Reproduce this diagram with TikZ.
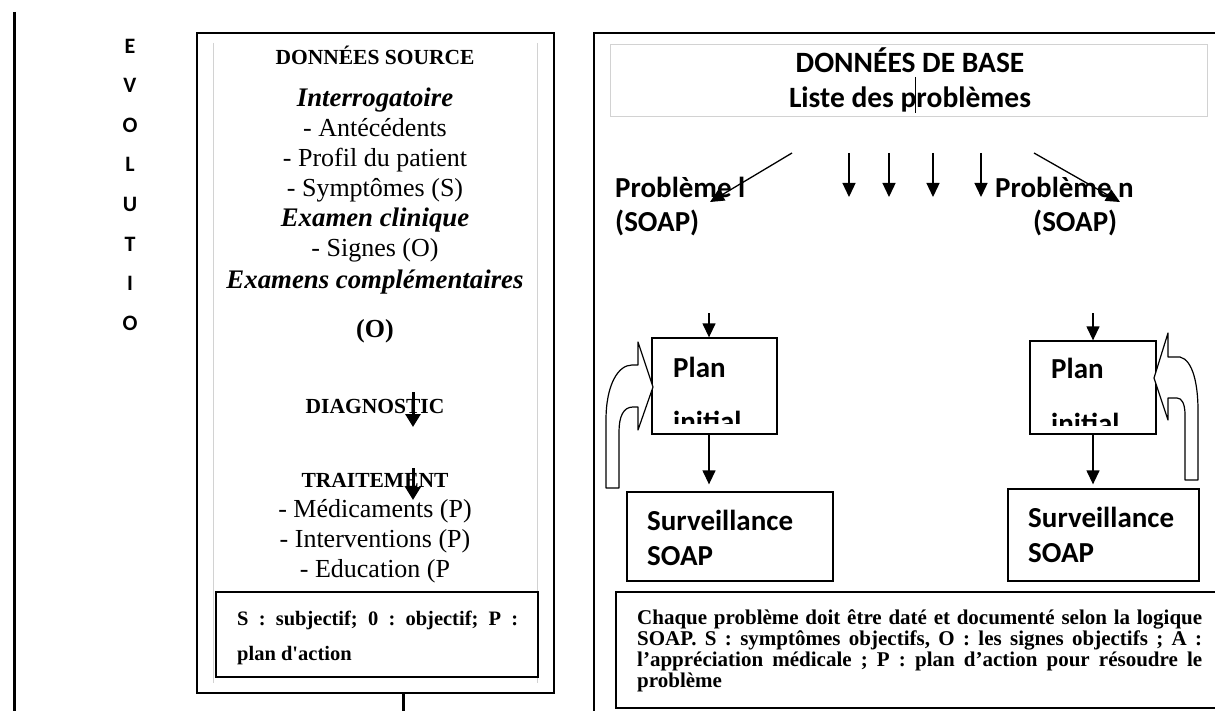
\documentclass[tikz,border=0pt]{standalone}
\usepackage{fontspec}
\setmainfont{Liberation Serif}
\newfontfamily\calibri{Carlito}
\usetikzlibrary{arrows.meta, positioning, calc}
\frenchspacing

\begin{document}
\begin{tikzpicture}[x=1pt, y=-1pt,
  frame/.style={draw, line width=1.6pt},
  pale/.style={draw=gray!35, line width=0.6pt},
  src/.style={anchor=base, inner sep=0pt, font=\fontsize{26}{30}\selectfont},
  srchead/.style={anchor=base, inner sep=0pt, font=\fontsize{21.5}{24}\selectfont\bfseries},
  srcsub/.style={anchor=base, inner sep=0pt, font=\fontsize{26.8}{30}\selectfont\bfseries\itshape},
  evo/.style={inner sep=0pt, font=\fontsize{22}{24}\calibri\bfseries},
  cal/.style={anchor=base west, inner sep=0pt, font=\fontsize{29}{34}\calibri\bfseries},
  calc/.style={anchor=base, inner sep=0pt, font=\fontsize{29.5}{34}\calibri\bfseries},
  planbox/.style={draw, line width=1.3pt, inner sep=0pt},
  bigarr/.style={line width=3pt, -{Triangle[length=13pt, width=15pt]}},
  arr/.style={line width=1.3pt, -{Triangle[length=14pt, width=13pt]}},
  loopback/.style={draw, fill=white, line width=1.2pt, line join=round}
]
\useasboundingbox (0,0) rectangle (1215,711);

% marge gauche
\draw[line width=3pt] (14,12) -- (14,711);
\foreach \ch [count=\i] in {E,V,O,L,U,T,I,O}
  \node[evo] (evo\i) at (130,{46+39.6*(\i-1)}) {\ch};

% colonne des donnees source
\draw[frame] (197,33) rectangle (554,693);
\draw[pale] (213,43) -- (213,683);
\draw[pale] (537,43) -- (537,683);
\node[srchead] (donsrc) at (375,65) {DONNÉES SOURCE};
\node[srcsub] (interro) at (375,107) {Interrogatoire};
\node[src] (antec) at (375,137) {- Antécédents};
\node[src] (profil) at (375,167) {- Profil du patient};
\node[src] (sympt) at (375,197) {- Symptômes (S)};
\node[srcsub] (examclin) at (375,227) {Examen clinique};
\node[src] (signes) at (375,257) {- Signes (O)};
\node[srcsub] (examcomp) at (375,288) {Examens complémentaires};
\node[srchead, font=\fontsize{26}{30}\selectfont\bfseries] (obj) at (375,337) {(O)};
\node[srchead] (diag) at (375,413) {DIAGNOSTIC};
\node[srchead] (trait) at (375,487) {TRAITEMENT};
\node[src] (medic) at (375,517) {- Médicaments (P)};
\node[src] (interv) at (375,547) {- Interventions (P)};
\node[src] (educ) at (375,577) {- Education (P};
\coordinate (d1) at (413,392);
\coordinate (d2) at (413,468);
\draw[bigarr] (d1) -- ++(0,35);
\draw[bigarr] (d2) -- ++(0,32);
\draw[line width=1.3pt] (216,592) rectangle (538,677);
\node[anchor=north west, inner sep=0pt, text width=281pt, align=justify,
  font=\fontsize{20.5}{35}\selectfont\bfseries] (legend) at (237,611)
  {S : subjectif; 0 : objectif; P :\linebreak plan d\textquotesingle action};
\draw[line width=3pt] (403,693) -- (403,711);

% colonne des donnees de base
\draw[line width=1.3pt] (1225,33) -- (594,33) -- (594,711);
\draw[pale] (610,44) rectangle (1207,116);
\node[calc] (base) at (910,73) {DONNÉES DE BASE};
\node[calc] (liste) at (910,108) {Liste des problèmes};
\draw[line width=0.8pt] (915,77) -- (915,113);

\node[cal] (prob1) at (615,198) {Problème l};
\node[cal] (soap1) at (615,232) {(SOAP)};
\node[cal] (probn) at (995,198) {Problème n};
\node[cal] (soapn) at (1033,232) {(SOAP)};

\draw[arr] (792,153) -- (710,202);
\foreach \x in {849,889,933,981}
  \draw[arr] (\x,153) -- (\x,197);
\draw[arr] (1034,153) -- (1120,202);

% probleme 1
\node[planbox, minimum width=125pt, minimum height=96pt] (plan1) at (714.5,386) {};
\node[cal] (plan1a) at (673,377) {Plan};
\begin{scope}
  \clip (652,338) rectangle (777,423);
  \node[cal] (plan1b) at (673,431) {initial};
\end{scope}
\node[planbox, minimum width=206pt, minimum height=89pt] (surv1) at (730,536.5) {};
\node[cal] (surv1a) at (647,530) {Surveillance};
\node[cal] (surv1b) at (647,565) {SOAP};
\coordinate (in1) at (709,313);
\draw[arr] (in1) -- (in1 |- plan1.north);
\draw[arr, shorten >=7pt] (in1 |- plan1.south) -- (in1 |- surv1.north);
\path[loopback] (606,488) -- (606,420) .. controls (606,385) and (618,365) .. (632,365)
  -- (638,365) -- (638,342) -- (653,387) -- (638,430) -- (638,407) -- (633,407)
  .. controls (623,407) and (619,417) .. (619,432) -- (619,488) -- cycle;

% probleme n
\node[planbox, minimum width=126pt, minimum height=93pt] (plan2) at (1093,387.5) {};
\node[cal] (plan2a) at (1051,378) {Plan};
\begin{scope}
  \clip (1030,341) rectangle (1156,425);
  \node[cal] (plan2b) at (1051,433) {initial};
\end{scope}
\node[planbox, minimum width=191pt, minimum height=92pt] (surv2) at (1103.5,535) {};
\node[cal] (surv2a) at (1028,527) {Surveillance};
\node[cal] (surv2b) at (1028,562) {SOAP};
\coordinate (in2) at (1093,313);
\draw[arr] (in2) -- (plan2.north);
\draw[arr, shorten >=4pt] (plan2.south) -- (plan2.south |- surv2.north);
\path[loopback] (1154,378) -- (1168,333) -- (1168,357) -- (1180,357)
  .. controls (1193,360) and (1198,385) .. (1198,410) -- (1198,480) -- (1185,480)
  -- (1185,415) .. controls (1185,404) and (1182,398) .. (1177,398) -- (1168,398)
  -- (1168,420) -- cycle;

% note SOAP
\draw[line width=1.3pt] (1225,592) -- (616,592) -- (616,708) -- (1225,708);
\node[anchor=north west, inner sep=0pt, text width=565pt, align=justify,
  font=\fontsize{21}{21}\selectfont\bfseries] (note) at (637,609)
  {Chaque problème doit être daté et documenté selon la logique\linebreak
   SOAP. S : symptômes objectifs, O : les signes objectifs ; A :\linebreak
   l’appréciation médicale ; P : plan d’action pour résoudre le\linebreak
   problème};
\end{tikzpicture}
\end{document}
